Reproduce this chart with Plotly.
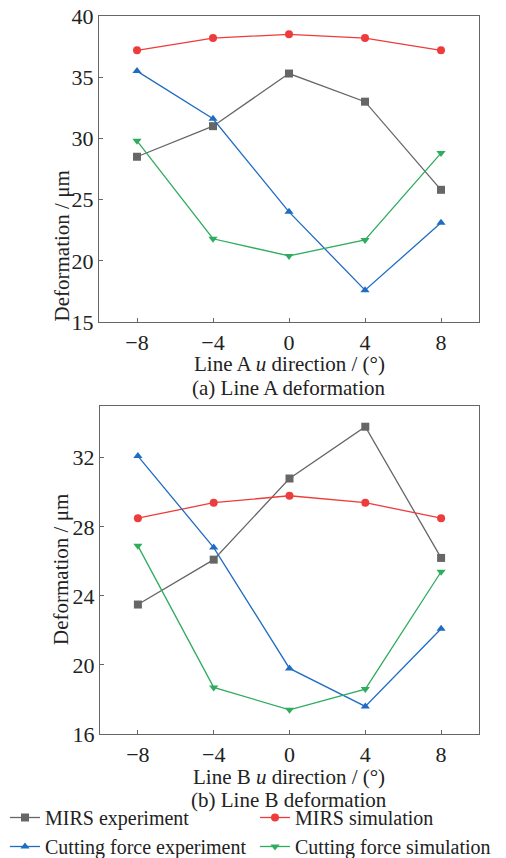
import plotly.graph_objects as go

x_vals = [-8, -4, 0, 4, 8]
x_ticks = ["\u22128", "\u22124", "0", "4", "8"]

a_mirs_exp = [28.5, 31.0, 35.3, 33.0, 25.8]
a_mirs_sim = [37.2, 38.2, 38.5, 38.2, 37.2]
a_cut_exp = [35.5, 31.6, 24.0, 17.6, 23.1]
a_cut_sim = [29.8, 21.8, 20.4, 21.7, 28.8]

b_mirs_exp = [23.5, 26.1, 30.8, 33.8, 26.2]
b_mirs_sim = [28.5, 29.4, 29.8, 29.4, 28.5]
b_cut_exp = [32.1, 26.8, 19.8, 17.6, 22.1]
b_cut_sim = [26.9, 18.7, 17.4, 18.6, 25.4]

names = ["MIRS experiment", "MIRS simulation", "Cutting force experiment", "Cutting force simulation"]
colors = ["#666666", "#ee3b3b", "#1f6cc4", "#2fac5f"]
symbols = ["square", "circle", "triangle-up", "triangle-down"]
legend_ids = ["legend", "legend2", "legend", "legend2"]

# page body has an 8px default margin; figure is sized to fit the window
OFF = 8
W, H = 506 - OFF, 858 - OFF
FONT = "Liberation Serif"
TXT = "#222222"

fig = go.Figure()

series_a = [a_mirs_exp, a_mirs_sim, a_cut_exp, a_cut_sim]
series_b = [b_mirs_exp, b_mirs_sim, b_cut_exp, b_cut_sim]

for i in range(4):
    fig.add_trace(go.Scatter(
        x=x_vals, y=series_a[i], mode="lines+markers", name=names[i],
        line=dict(color=colors[i], width=1.3),
        marker=dict(symbol=symbols[i], size=8, color=colors[i]),
        xaxis="x", yaxis="y", showlegend=False))
for i in range(4):
    fig.add_trace(go.Scatter(
        x=x_vals, y=series_b[i], mode="lines+markers", name=names[i],
        line=dict(color=colors[i], width=1.3),
        marker=dict(symbol=symbols[i], size=8, color=colors[i]),
        xaxis="x2", yaxis="y2", showlegend=True, legend=legend_ids[i]))

def px_x(p):
    return (p - OFF) / W

def px_y(p):
    return 1 - (p - OFF) / H

axis_common = dict(
    showgrid=False, zeroline=False, showline=True, linecolor="#666666", linewidth=1.3,
    mirror=True, ticks="inside", ticklen=4, tickcolor="#666666", tickwidth=1.2,
    tickfont=dict(family=FONT, size=22, color=TXT), automargin=False,
    ticklabeloverflow="allow",
)

legend_common = dict(orientation="v", xanchor="left", yanchor="bottom",
                     y=px_y(866), tracegroupgap=0, itemwidth=30,
                     font=dict(family=FONT, size=20, color=TXT), bgcolor="rgba(0,0,0,0)")

fig.update_layout(
    width=W, height=H,
    margin=dict(l=0, r=0, t=0, b=0, autoexpand=False),
    paper_bgcolor="white", plot_bgcolor="white",
    font=dict(family=FONT, size=21, color=TXT),
    xaxis=dict(domain=[px_x(99), px_x(479)], range=[-10, 10], tickvals=x_vals, ticktext=x_ticks,
               anchor="y", **axis_common),
    yaxis=dict(domain=[px_y(322), px_y(16)], range=[15, 40], tickvals=[15, 20, 25, 30, 35, 40],
               anchor="x", **axis_common),
    xaxis2=dict(domain=[px_x(100), px_x(479)], range=[-10, 10], tickvals=x_vals, ticktext=x_ticks,
                anchor="y2", **axis_common),
    yaxis2=dict(domain=[px_y(734), px_y(406)], range=[16, 35], tickvals=[16, 20, 24, 28, 32],
                anchor="x2", **axis_common),
    legend=dict(x=px_x(-3 + OFF), **legend_common),
    legend2=dict(x=px_x(247 + OFF), **legend_common),
)

ann = [
    dict(text="Line A <i>u</i> direction / (°)", x=px_x(289), y=px_y(364)),
    dict(text="(a) Line A deformation", x=px_x(289), y=px_y(388)),
    dict(text="Line B <i>u</i> direction / (°)", x=px_x(289), y=px_y(777)),
    dict(text="(b) Line B deformation", x=px_x(289), y=px_y(800)),
]
for a in ann:
    fig.add_annotation(xref="paper", yref="paper", showarrow=False, xanchor="center", yanchor="middle",
                       font=dict(family=FONT, size=21, color=TXT), **a)
fig.add_annotation(text="Deformation / μm", xref="paper", yref="paper", x=px_x(47), y=px_y(169),
                   textangle=-90, showarrow=False, font=dict(family=FONT, size=21, color=TXT))
fig.add_annotation(text="Deformation / μm", xref="paper", yref="paper", x=px_x(47), y=px_y(570),
                   textangle=-90, showarrow=False, font=dict(family=FONT, size=21, color=TXT))

fig.write_html("out.html")
